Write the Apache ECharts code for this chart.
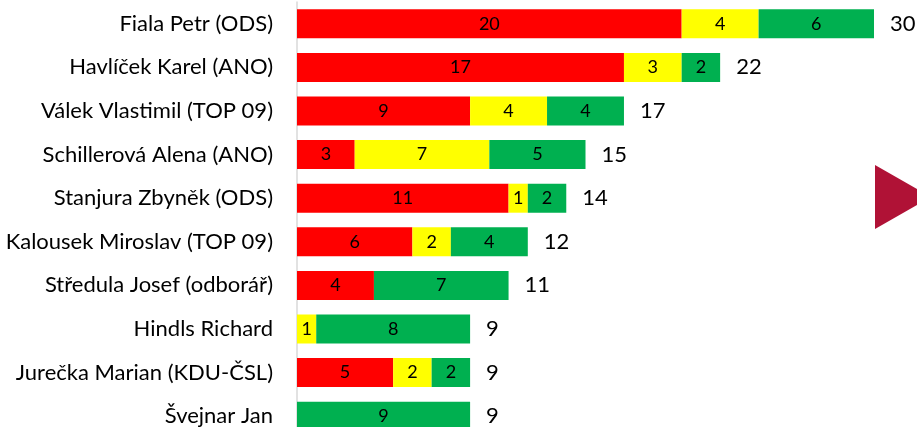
<!DOCTYPE html>
<html>
<head>
<meta charset="utf-8">
<script src="https://cdn.jsdelivr.net/npm/echarts@6/dist/echarts.min.js"></script>
<style>
  html, body { margin: 0; padding: 0; background: #fff; }
  #wrap { width: 917px; height: 427px; overflow: hidden; }
  #chart { width: 917px; height: 445px; }
</style>
</head>
<body>
<div id="wrap"><div id="chart"></div></div>
<script>
const names = [
  'Fiala Petr (ODS)',
  'Havlíček Karel (ANO)',
  'Válek Vlastimil (TOP 09)',
  'Schillerová Alena (ANO)',
  'Stanjura Zbyněk (ODS)',
  'Kalousek Miroslav (TOP 09)',
  'Středula Josef (odborář)',
  'Hindls Richard',
  'Jurečka Marian (KDU-ČSL)',
  'Švejnar Jan'
];
const redVals    = [20, 17, 9, 3, 11, 6, 4, 0, 5, 0];
const yellowVals = [4, 3, 4, 7, 1, 2, 0, 1, 2, 0];
const greenVals  = [6, 2, 4, 5, 2, 4, 7, 8, 2, 9];
const totals = names.map((_, i) => redVals[i] + yellowVals[i] + greenVals[i]);

const font = 'Lato, "Noto Sans", sans-serif';

const chart = echarts.init(document.getElementById('chart'));

const segLabel = {
  show: true,
  position: 'inside',
  color: '#000',
  fontSize: 18,
  fontFamily: font,
  formatter: p => (p.value ? p.value : '')
};

function seg(name, data, color) {
  return {
    name: name,
    type: 'bar',
    stack: 'all',
    data: data,
    barWidth: 29,
    itemStyle: { color: color },
    label: segLabel,
    silent: true
  };
}

chart.setOption({
  animation: false,
  grid: { left: 297, top: 2, width: 577, height: 436 },
  xAxis: {
    type: 'value',
    min: 0,
    max: 30,
    show: false
  },
  yAxis: {
    type: 'category',
    data: names,
    inverse: true,
    axisLine: { show: true, lineStyle: { color: '#d9d9d9', width: 1.5 } },
    axisTick: { show: false },
    axisLabel: {
      margin: 24,
      color: '#000',
      fontSize: 22,
      fontFamily: font
    }
  },
  series: [
    seg('red', redVals, '#FF0000'),
    seg('yellow', yellowVals, '#FFFF00'),
    seg('green', greenVals, '#00B050'),
    {
      name: 'total',
      type: 'bar',
      stack: 'all',
      data: totals.map(() => 0),
      barWidth: 29,
      itemStyle: { color: 'transparent' },
      label: {
        show: true,
        position: 'right',
        distance: 16,
        color: '#000',
        fontSize: 22,
        fontFamily: font,
        formatter: p => totals[p.dataIndex]
      },
      silent: true
    }
  ],
  graphic: [{
    type: 'polygon',
    shape: { points: [[875, 165], [931, 197], [875, 229]] },
    style: { fill: '#B01236' },
    silent: true
  }]
});
</script>
</body>
</html>
